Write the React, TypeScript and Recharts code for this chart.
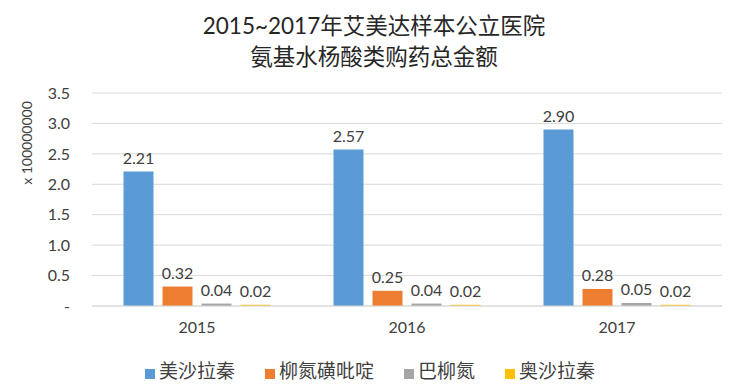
import { BarChart, Bar, XAxis, YAxis, CartesianGrid, Legend, LabelList, Label } from "recharts";

const years = ["2015", "2016", "2017"];
const mesalazine = [2.21, 2.57, 2.9];
const sulfasalazine = [0.32, 0.25, 0.28];
const balsalazide = [0.04, 0.04, 0.05];
const olsalazine = [0.02, 0.02, 0.02];
const yTicks = [0, 0.5, 1, 1.5, 2, 2.5, 3, 3.5];

const data = years.map((year, i) => ({
  year,
  a: mesalazine[i],
  b: sulfasalazine[i],
  c: balsalazide[i],
  d: olsalazine[i],
}));

const FONT = "Lato, 'Noto Sans CJK SC', sans-serif";
const series = [
  { key: "a", name: "美沙拉秦", color: "#5B9BD5" },
  { key: "b", name: "柳氮磺吡啶", color: "#ED7D31" },
  { key: "c", name: "巴柳氮", color: "#A5A5A5" },
  { key: "d", name: "奥沙拉秦", color: "#FFC000" },
];

export default function App() {
  return (
    <div style={{ position: "absolute", left: 0, top: 0, width: 742, height: 390, background: "#fff", fontFamily: FONT }}>
      <div
        style={{
          position: "absolute",
          top: 10,
          left: 0,
          width: 748,
          textAlign: "center",
          fontSize: 22.5,
          lineHeight: "31px",
          color: "#262626",
        }}
      >
        2015~2017年艾美达样本公立医院
        <br />
        氨基水杨酸类购药总金额
      </div>
      <div style={{ position: "absolute", top: 0, left: 0 }}>
        <BarChart
          width={742}
          height={390}
          data={data}
          margin={{ top: 93, right: 20, bottom: 4, left: 0 }}
          barCategoryGap="15%"
          barGap={9}
        >
          <CartesianGrid vertical={false} stroke="#D9D9D9" />
          <XAxis
            dataKey="year"
            height={50}
            tickLine={false}
            axisLine={{ stroke: "#D9D9D9" }}
            tick={{ fill: "#404040", fontSize: 16, fontFamily: FONT }}
            tickMargin={10}
          />
          <YAxis
            width={92}
            domain={[0, 3.5]}
            ticks={yTicks}
            tickLine={false}
            axisLine={false}
            tickMargin={16}
            tickFormatter={(v: number) => (v === 0 ? "-" : v.toFixed(1))}
            tick={{ fill: "#404040", fontSize: 16, fontFamily: FONT }}
          >
            <Label
              content={() => (
                <text
                  x={32}
                  y={143}
                  transform="rotate(-90 32 143)"
                  textAnchor="middle"
                  fill="#404040"
                  fontSize={14}
                  fontFamily={FONT}
                >
                  x 100000000
                </text>
              )}
            />
          </YAxis>
          <Legend
            verticalAlign="bottom"
            align="center"
            height={30}
            iconType="square"
            iconSize={10}
            itemSorter="dataKey"
            wrapperStyle={{ left: 14, width: 742 }}
            formatter={(value: string) => (
              <span style={{ color: "#404040", fontSize: 19, marginRight: 20, fontFamily: FONT }}>{value}</span>
            )}
          />
          {series.map((s) => (
            <Bar key={s.key} dataKey={s.key} name={s.name} fill={s.color} isAnimationActive={false}>
              <LabelList
                dataKey={s.key}
                position="top"
                offset={8}
                formatter={(v: number) => v.toFixed(2)}
                style={{ fill: "#404040", fontSize: 16, fontFamily: FONT }}
              />
            </Bar>
          ))}
        </BarChart>
      </div>
    </div>
  );
}
